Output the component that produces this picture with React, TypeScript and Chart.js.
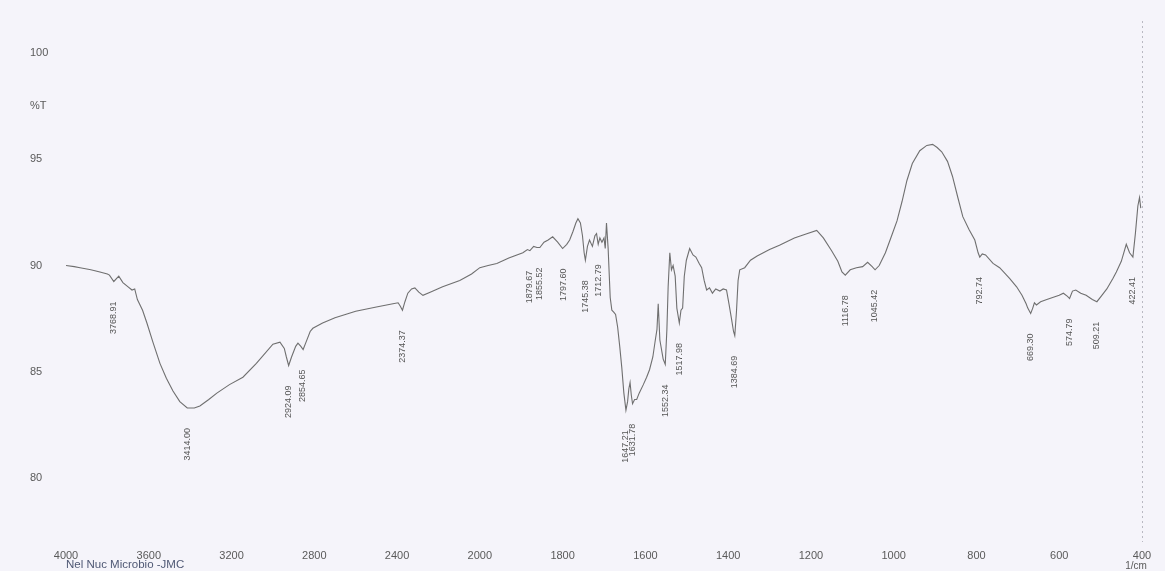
import React, { useEffect, useRef } from 'react';
import { Chart, registerables } from 'chart.js';

Chart.register(...registerables);

// Spectrum (wavenumber in 1/cm, transmittance in %T)
const wavenumbers = [
  4000, 3960, 3932, 3880, 3836, 3800, 3790, 3769, 3745, 3725, 3700, 3681, 3668, 3655, 3630, 3609, 3580, 3546, 3515, 3483,
  3450, 3414, 3380, 3353, 3310, 3271, 3210, 3145, 3080, 3000, 2966, 2945, 2935, 2924, 2910, 2890, 2879, 2865, 2854, 2840,
  2820, 2807, 2760, 2700, 2600, 2500, 2420, 2395, 2385, 2374, 2362, 2348, 2330, 2314, 2295, 2275, 2240, 2180, 2097, 2040,
  2000, 1980, 1959, 1930, 1896, 1885, 1879, 1870, 1862, 1855, 1845, 1835, 1824, 1812, 1800, 1790, 1783, 1775, 1768, 1763,
  1757, 1752, 1748, 1745, 1740, 1735, 1728, 1722, 1718, 1714, 1710, 1705, 1700, 1697, 1694, 1690, 1685, 1681, 1676, 1672,
  1667, 1662, 1657, 1652, 1647, 1643, 1640, 1637, 1634, 1631, 1626, 1621, 1615, 1605, 1597, 1590, 1582, 1576, 1572, 1569,
  1565, 1557, 1552, 1548, 1545, 1541, 1537, 1533, 1528, 1524, 1518, 1514, 1510, 1506, 1501, 1493, 1485, 1478, 1470, 1464,
  1458, 1452, 1445, 1438, 1430, 1420, 1412, 1404, 1398, 1392, 1387, 1384, 1380, 1376, 1372, 1360, 1346, 1330, 1300, 1276,
  1240, 1210, 1186, 1170, 1150, 1135, 1125, 1117, 1105, 1090, 1075, 1063, 1052, 1045, 1035, 1020, 1005, 992, 980, 968,
  955, 937, 920, 906, 895, 884, 870, 858, 845, 833, 818, 804, 796, 792, 786, 778, 760, 744, 720, 703,
  690, 680, 676, 669, 664, 660, 655, 645, 630, 616, 600, 590, 580, 575, 568, 560, 548, 535, 520, 509,
  497, 485, 470, 462, 450, 438, 430, 422, 416, 410, 406, 403,
];
const transmittance = [
  90.0, 89.95, 89.9, 89.8, 89.7, 89.6, 89.55, 89.25, 89.5, 89.2, 89.0, 88.85, 88.9, 88.4, 87.9, 87.3, 86.4, 85.4, 84.7, 84.1,
  83.6, 83.3, 83.3, 83.4, 83.7, 84.0, 84.4, 84.75, 85.4, 86.3, 86.4, 86.1, 85.7, 85.3, 85.7, 86.2, 86.35, 86.2, 86.05, 86.4,
  86.9, 87.05, 87.3, 87.55, 87.85, 88.05, 88.2, 88.25, 88.1, 87.9, 88.3, 88.7, 88.9, 88.95, 88.75, 88.6, 88.75, 89.0, 89.3, 89.6,
  89.9, 90.0, 90.1, 90.35, 90.6, 90.75, 90.7, 90.9, 90.85, 90.85, 91.1, 91.2, 91.35, 91.1, 90.8, 91.0, 91.2, 91.6, 92.0, 92.2,
  92.0, 91.4, 90.6, 90.25, 90.9, 91.2, 90.9, 91.4, 91.5, 91.0, 91.3, 91.1, 91.3, 90.8, 92.0, 90.8, 88.5, 87.9, 87.8, 87.7,
  87.1, 86.2, 85.2, 84.0, 83.2, 83.6, 84.2, 84.5, 83.9, 83.5, 83.7, 83.7, 84.0, 84.4, 84.75, 85.1, 85.7, 86.5, 87.0, 88.2,
  86.5, 85.6, 85.35, 87.0, 89.0, 90.6, 89.8, 90.0, 89.5, 88.0, 87.3, 87.9, 88.0, 89.5, 90.25, 90.8, 90.5, 90.4, 90.1, 89.9,
  89.3, 88.85, 88.95, 88.7, 88.9, 88.8, 88.9, 88.85, 88.2, 87.5, 86.9, 86.7, 87.8, 89.3, 89.8, 89.9, 90.25, 90.45, 90.75, 90.95,
  91.3, 91.5, 91.65, 91.3, 90.7, 90.2, 89.7, 89.55, 89.8, 89.9, 89.95, 90.15, 89.95, 89.8, 90.0, 90.6, 91.4, 92.1, 93.0, 94.0,
  94.8, 95.4, 95.65, 95.7, 95.55, 95.35, 94.9, 94.2, 93.2, 92.3, 91.7, 91.2, 90.6, 90.4, 90.55, 90.5, 90.1, 89.9, 89.4, 89.0,
  88.6, 88.2, 88.0, 87.75, 88.0, 88.25, 88.15, 88.3, 88.4, 88.5, 88.6, 88.7, 88.55, 88.45, 88.8, 88.85, 88.7, 88.6, 88.4, 88.3,
  88.6, 88.9, 89.4, 89.7, 90.2, 91.0, 90.6, 90.4, 91.5, 92.8, 93.2, 92.7,
];

// Labelled peaks
const peakWavenumbers = [
  3768.91, 3414.0, 2924.09, 2854.65, 2374.37, 1879.67, 1855.52, 1797.6, 1745.38, 1712.79, 1647.21,
  1631.78, 1552.34, 1517.98, 1384.69, 1116.78, 1045.42, 792.74, 669.3, 574.79, 509.21, 422.41,
];
const peakTransmittance = [
  89.25, 83.3, 85.3, 86.05, 87.9, 90.7, 90.85, 90.8, 90.25, 91.0, 83.2,
  83.5, 85.35, 87.3, 86.7, 89.55, 89.8, 90.4, 87.75, 88.45, 88.3, 90.4,
];

// Axis ticks
const xTickWavenumbers = [4000, 3600, 3200, 2800, 2400, 2000, 1800, 1600, 1400, 1200, 1000, 800, 600, 400];
const xTickLabels = ['4000', '3600', '3200', '2800', '2400', '2000', '1800', '1600', '1400', '1200', '1000', '800', '600', '400'];
const yTickValues = [80, 85, 90, 95, 100];
const yTitle = '%T';
const yTitleValue = 97.5;
const xTitle = '1/cm';
const footnote = 'Nel Nuc Microbio -JMC';

// Shimadzu-style split scale: 400 cm-1 per division above 2000, 200 cm-1 per division below
function toPos(w: number): number {
  return w >= 2000 ? (4000 - w) / 400 : 5 + (2000 - w) / 200;
}

const FONT = '"Liberation Sans", Arial, sans-serif';

const spectrumPlugin = {
  id: 'spectrumDecor',
  beforeDraw(chart: any) {
    const ctx = chart.ctx;
    ctx.save();
    ctx.fillStyle = '#f5f4fa';
    ctx.fillRect(0, 0, chart.width, chart.height);
    ctx.restore();
  },
  afterDraw(chart: any) {
    const ctx = chart.ctx;
    const xs = chart.scales.x;
    const ys = chart.scales.y;
    ctx.save();
    ctx.fillStyle = '#555555';
    ctx.font = `9px ${FONT}`;
    ctx.textAlign = 'right';
    ctx.textBaseline = 'middle';
    peakWavenumbers.forEach((w, i) => {
      const px = xs.getPixelForValue(toPos(w));
      const py = ys.getPixelForValue(peakTransmittance[i]) + 20;
      ctx.save();
      ctx.translate(px, py);
      ctx.rotate(-Math.PI / 2);
      ctx.fillText(w.toFixed(2), 0, 0);
      ctx.restore();
    });
    ctx.font = `10px ${FONT}`;
    ctx.textAlign = 'center';
    ctx.fillStyle = '#5a5a5a';
    ctx.fillText(xTitle, xs.getPixelForValue(toPos(400)) - 6, 566);
    ctx.textAlign = 'left';
    ctx.fillStyle = '#4f5874';
    ctx.font = `11.5px ${FONT}`;
    ctx.fillText(footnote, 66, 565);
    ctx.restore();
  },
};

export default function App() {
  const ref = useRef<HTMLCanvasElement | null>(null);

  useEffect(() => {
    document.body.style.margin = '0';
    if (!ref.current) return;
    const chart = new Chart(ref.current, {
      type: 'line',
      data: {
        datasets: [
          {
            data: wavenumbers.map((w, i) => ({ x: toPos(w), y: transmittance[i] })),
            borderColor: '#6f6f6f',
            borderWidth: 1.1,
            pointRadius: 0,
            tension: 0,
            fill: false,
          },
        ],
      },
      options: {
        animation: false,
        responsive: false,
        layout: { padding: { left: 30, right: 23, top: 21, bottom: 0 } },
        plugins: { legend: { display: false }, tooltip: { enabled: false } },
        scales: {
          x: {
            type: 'linear',
            min: 0,
            max: 13,
            afterBuildTicks: (s: any) => {
              s.ticks = xTickWavenumbers.map((w) => ({ value: toPos(w) }));
            },
            afterFit: (s: any) => {
              s.height = 29;
            },
            ticks: {
              autoSkip: false,
              maxRotation: 0,
              padding: 7,
              color: '#5a5a5a',
              font: { family: FONT, size: 11 },
              callback: (_v: any, i: number) => xTickLabels[i],
            },
            grid: {
              drawTicks: false,
              color: (c: any) => (c.index === xTickWavenumbers.length - 1 ? '#b9b9c2' : 'rgba(0,0,0,0)'),
              lineWidth: 1,
            },
            border: { display: false, dash: [2, 3] },
          },
          y: {
            type: 'linear',
            min: 77,
            max: 101.5,
            afterBuildTicks: (s: any) => {
              s.ticks = [...yTickValues, yTitleValue].sort((a, b) => a - b).map((v) => ({ value: v }));
            },
            afterFit: (s: any) => {
              s.width = 36;
            },
            ticks: {
              autoSkip: false,
              crossAlign: 'far',
              color: '#5a5a5a',
              font: { family: FONT, size: 11 },
              callback: (v: any) => (v === yTitleValue ? yTitle : String(v)),
            },
            grid: { display: false },
            border: { display: false },
          },
        },
      } as any,
      plugins: [spectrumPlugin],
    });
    return () => chart.destroy();
  }, []);

  return <canvas ref={ref} width={1165} height={571} style={{ display: 'block' }} />;
}
